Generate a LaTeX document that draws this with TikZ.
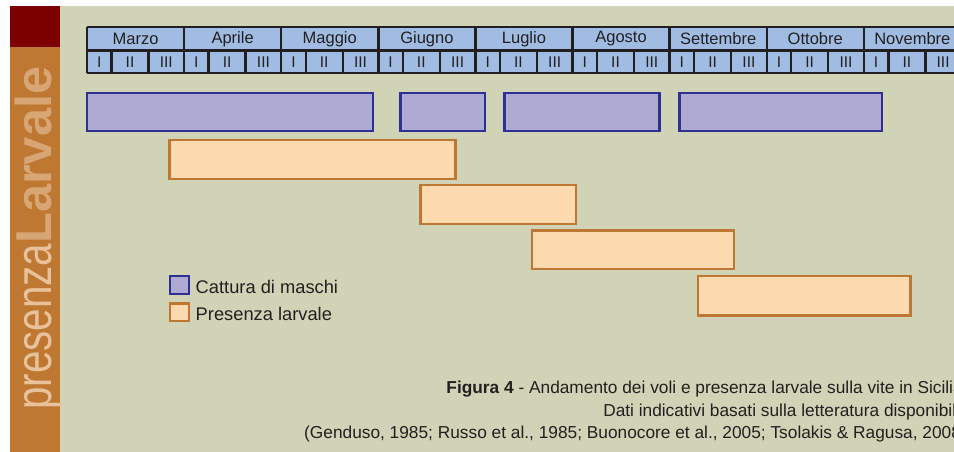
\documentclass[tikz,border=0pt]{standalone}
\usepackage{fontspec}
\setmainfont{Liberation Sans}
\newfontfamily\narrowf[FakeStretch=0.8]{Liberation Sans}
\definecolor{bg}{RGB}{208,211,181}
\definecolor{darkred}{RGB}{124,0,0}
\definecolor{sideorange}{RGB}{190,120,50}
\definecolor{sidelight}{RGB}{232,194,154}
\definecolor{sidetan}{RGB}{216,166,116}
\definecolor{tblue}{RGB}{160,188,226}
\definecolor{tline}{RGB}{35,31,32}
\definecolor{pfill}{RGB}{174,170,212}
\definecolor{pborder}{RGB}{46,48,146}
\definecolor{ofill}{RGB}{253,217,176}
\definecolor{oborder}{RGB}{191,120,52}
\definecolor{txt}{RGB}{35,31,32}
\begin{document}
\begin{tikzpicture}[x=1pt,y=-1pt,
  tl/.style={draw=tline,line width=2.4pt},
  pbar/.style={draw=pborder,fill=pfill,line width=2.4pt},
  obar/.style={draw=oborder,fill=ofill,line width=2.4pt},
  mlab/.style={inner sep=0pt,text=txt,font=\fontsize{16.5}{16.5}\selectfont},
  dlab/.style={inner sep=0pt,text=txt,font=\fontsize{15.5}{15.5}\selectfont},
  leglab/.style={inner sep=0pt,anchor=base west,text=txt,font=\fontsize{18.3}{18.3}\selectfont},
  caplab/.style={inner sep=0pt,anchor=base east,text=txt,font=\fontsize{17.3}{17.3}\selectfont}]
\useasboundingbox (0,0) rectangle (954,452);
\clip (0,0) rectangle (954,452);
\fill[white] (0,0) rectangle (954,452);
\fill[bg] (60,6) rectangle (954,452);
\fill[darkred] (10,6) rectangle (60,47);
\fill[sideorange] (10,47) rectangle (60,452);
\node[rotate=90,anchor=base west,inner sep=0pt] (side) at (51.5,410)
  {\fontsize{50.5}{50.5}\selectfont{\color{sidelight}\narrowf presenza}{\color{sidetan}\bfseries Larvale}};
% table
\fill[tblue] (87,27) rectangle (962,73.3);
\foreach \yy in {27,50.5,73.3} \draw[tl] (87,\yy) -- (962,\yy);
\foreach \m [count=\i from 0] in {Marzo,Aprile,Maggio,Giugno,Luglio,Agosto,Settembre,Ottobre,Novembre}{
  \pgfmathsetmacro{\xa}{87+97.1*\i}
  \draw[tl] (\xa,27) -- (\xa,73.3);
  \draw[tl] (\xa+24.5,50.5) -- (\xa+24.5,73.3);
  \draw[tl] (\xa+61.5,50.5) -- (\xa+61.5,73.3);
  \node[mlab] (m\i) at (\xa+48.55,39) {\m};
  \node[dlab] (d\i a) at (\xa+12.25,62) {I};
  \node[dlab] (d\i b) at (\xa+43,62) {II};
  \node[dlab] (d\i c) at (\xa+79.3,62) {III};
}
% bars
\draw[pbar] (87.2,93.2) rectangle (373.1,131.1);
\draw[pbar] (400.5,93.2) rectangle (484.8,131.1);
\draw[pbar] (504.5,93.2) rectangle (659.5,131.1);
\draw[pbar] (679.5,93.2) rectangle (882.1,131.1);
\draw[obar] (169.5,140.2) rectangle (455.5,178.8);
\draw[obar] (420.5,185.2) rectangle (576.1,223.8);
\draw[obar] (531.9,230.5) rectangle (734.1,268.8);
\draw[obar] (697.9,276.2) rectangle (910.5,315.5);
% legend
\draw[pborder,fill=pfill,line width=2.5pt] (170.2,276.2) rectangle (188.8,293.8);
\draw[oborder,fill=ofill,line width=2.5pt] (170.2,303.5) rectangle (188.8,321.1);
\node[leglab] (l1) at (195.5,293.3) {Cattura di maschi};
\node[leglab] (l2) at (195.5,320.7) {Presenza larvale};
% caption
\node[caplab] (c1) at (963,393.5) {\textbf{Figura 4} - Andamento dei voli e presenza larvale sulla vite in Sicilia};
\node[caplab] (c2) at (966,416) {Dati indicativi basati sulla letteratura disponibile};
\node[caplab] (c3) at (967,438.5) {(Genduso, 1985; Russo et al., 1985; Buonocore et al., 2005; Tsolakis \& Ragusa, 2008)};
\end{tikzpicture}
\end{document}
